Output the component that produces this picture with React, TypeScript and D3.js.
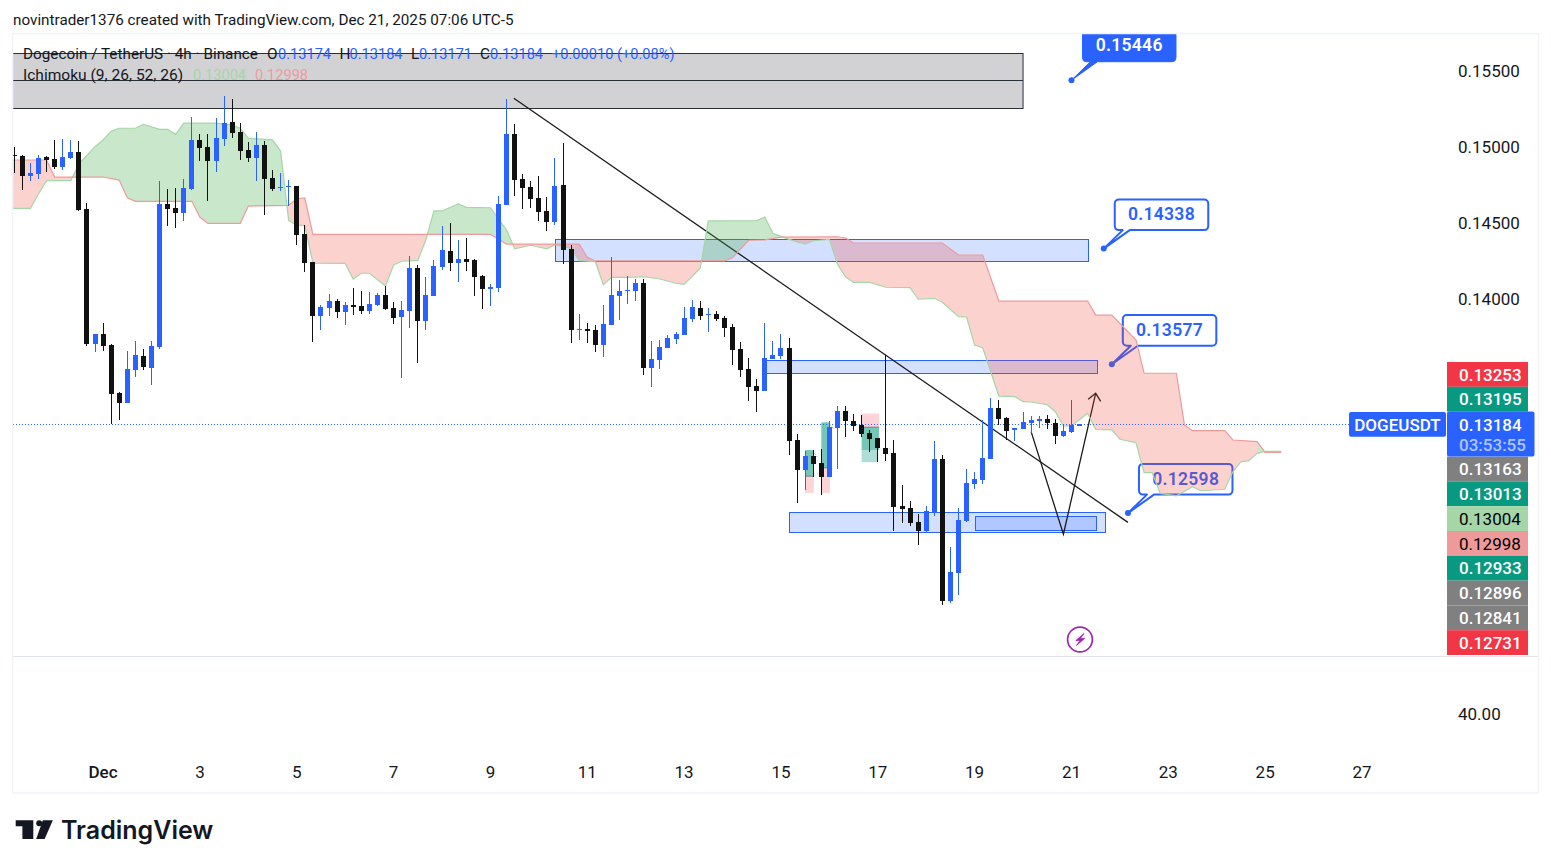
import * as d3 from 'd3';

// 4h candles
const opens = [
  0.14954, 0.14947, 0.14816, 0.14829, 0.14941, 0.14928, 0.14875, 0.14934, 0.14974, 0.14599,
  0.13711, 0.13776, 0.13704, 0.13388, 0.13322, 0.13539, 0.13632, 0.13553, 0.13691, 0.14632,
  0.14605, 0.14572, 0.14730, 0.15053, 0.15007, 0.14914, 0.15059, 0.15171, 0.15105, 0.14987,
  0.14934, 0.15020, 0.14803, 0.14737, 0.14743, 0.14750, 0.14434, 0.14250, 0.13895, 0.13947,
  0.13993, 0.13921, 0.13967, 0.13961, 0.13928, 0.13967, 0.14033, 0.13947, 0.13888, 0.13928,
  0.14211, 0.13862, 0.14026, 0.14217, 0.14322, 0.14243, 0.14270, 0.14263, 0.14158, 0.14072,
  0.14079, 0.14625, 0.15092, 0.14796, 0.14743, 0.14671, 0.14586, 0.14513, 0.14757, 0.14336,
  0.13803, 0.13809, 0.13803, 0.13704, 0.13836, 0.14026, 0.14059, 0.14059, 0.14112, 0.13553,
  0.13605, 0.13684, 0.13743, 0.13770, 0.13875, 0.13947, 0.13901, 0.13908, 0.13882, 0.13822,
  0.13678, 0.13546, 0.13434, 0.13401, 0.13612, 0.13632, 0.13684, 0.13079, 0.12882, 0.12974,
  0.12928, 0.12836, 0.13158, 0.13270, 0.13204, 0.13178, 0.13125, 0.13092, 0.13026, 0.12993,
  0.12645, 0.12632, 0.12539, 0.12480, 0.12599, 0.12954, 0.12020, 0.12204, 0.12546, 0.12789,
  0.12816, 0.12954, 0.13289, 0.13224, 0.13145, 0.13151, 0.13191, 0.13204, 0.13217, 0.13191,
  0.13105, 0.13132, 0.13174,
];
const closes = [
  0.14947, 0.14816, 0.14836, 0.14934, 0.14921, 0.14875, 0.14941, 0.14974, 0.14592, 0.13711,
  0.13776, 0.13697, 0.13382, 0.13322, 0.13546, 0.13638, 0.13559, 0.13697, 0.14632, 0.14599,
  0.14572, 0.14737, 0.15053, 0.15000, 0.14914, 0.15066, 0.15164, 0.15099, 0.14980, 0.14934,
  0.15020, 0.14796, 0.14730, 0.14743, 0.14750, 0.14428, 0.14243, 0.13895, 0.13954, 0.13993,
  0.13921, 0.13967, 0.13954, 0.13928, 0.13974, 0.14033, 0.13941, 0.13882, 0.13934, 0.14211,
  0.13862, 0.14033, 0.14224, 0.14329, 0.14243, 0.14270, 0.14250, 0.14151, 0.14072, 0.14086,
  0.14632, 0.15092, 0.14789, 0.14737, 0.14664, 0.14579, 0.14513, 0.14750, 0.14329, 0.13803,
  0.13809, 0.13796, 0.13704, 0.13842, 0.14033, 0.14059, 0.14066, 0.14112, 0.13553, 0.13612,
  0.13691, 0.13750, 0.13776, 0.13882, 0.13954, 0.13895, 0.13908, 0.13875, 0.13816, 0.13671,
  0.13539, 0.13428, 0.13401, 0.13618, 0.13638, 0.13684, 0.13072, 0.12882, 0.12974, 0.12921,
  0.12836, 0.13164, 0.13270, 0.13204, 0.13171, 0.13118, 0.13086, 0.13026, 0.12987, 0.12638,
  0.12625, 0.12533, 0.12480, 0.12612, 0.12954, 0.12020, 0.12211, 0.12553, 0.12796, 0.12822,
  0.12961, 0.13289, 0.13217, 0.13138, 0.13158, 0.13197, 0.13211, 0.13217, 0.13191, 0.13105,
  0.13138, 0.13178, 0.13184,
];
const highs = [
  0.15004, 0.14954, 0.14899, 0.14954, 0.14947, 0.15053, 0.15057, 0.15053, 0.15046, 0.14638,
  0.13776, 0.13849, 0.13711, 0.13395, 0.13664, 0.13730, 0.13678, 0.13730, 0.14783, 0.14730,
  0.14737, 0.14796, 0.15204, 0.15092, 0.15092, 0.15197, 0.15342, 0.15322, 0.15164, 0.15040,
  0.15105, 0.15046, 0.14855, 0.14836, 0.14789, 0.14750, 0.14493, 0.14250, 0.13967, 0.14039,
  0.14007, 0.13987, 0.14079, 0.14059, 0.14053, 0.14046, 0.14092, 0.13987, 0.13993, 0.14289,
  0.14230, 0.14151, 0.14263, 0.14487, 0.14507, 0.14395, 0.14408, 0.14270, 0.14164, 0.14105,
  0.14684, 0.15322, 0.15158, 0.14829, 0.14783, 0.14816, 0.14678, 0.14934, 0.15033, 0.14362,
  0.13908, 0.13849, 0.13836, 0.13967, 0.14283, 0.14132, 0.14158, 0.14138, 0.14138, 0.13730,
  0.13737, 0.13770, 0.13789, 0.13954, 0.14000, 0.13993, 0.13947, 0.13928, 0.13895, 0.13842,
  0.13724, 0.13618, 0.13480, 0.13849, 0.13730, 0.13776, 0.13750, 0.13118, 0.13007, 0.13013,
  0.13020, 0.13204, 0.13303, 0.13303, 0.13250, 0.13243, 0.13145, 0.13092, 0.13638, 0.13079,
  0.12783, 0.12678, 0.12592, 0.12645, 0.13072, 0.12980, 0.12375, 0.12632, 0.12888, 0.12868,
  0.13211, 0.13355, 0.13342, 0.13230, 0.13158, 0.13263, 0.13237, 0.13237, 0.13243, 0.13217,
  0.13178, 0.13342, 0.13184,
];
const lows = [
  0.14838, 0.14724, 0.14785, 0.14796, 0.14842, 0.14862, 0.14855, 0.14928, 0.14586, 0.13697,
  0.13658, 0.13664, 0.13184, 0.13211, 0.13322, 0.13493, 0.13539, 0.13441, 0.13678, 0.14487,
  0.14474, 0.14520, 0.14724, 0.14914, 0.14651, 0.14842, 0.15013, 0.15066, 0.14921, 0.14908,
  0.14783, 0.14559, 0.14717, 0.14717, 0.14618, 0.14362, 0.14184, 0.13724, 0.13803, 0.13895,
  0.13882, 0.13836, 0.13901, 0.13908, 0.13908, 0.13961, 0.13934, 0.13842, 0.13487, 0.13816,
  0.13586, 0.13803, 0.14026, 0.14197, 0.14191, 0.14118, 0.14191, 0.14026, 0.13941, 0.13961,
  0.14053, 0.14625, 0.14684, 0.14599, 0.14605, 0.14520, 0.14454, 0.14493, 0.14237, 0.13717,
  0.13737, 0.13717, 0.13658, 0.13625, 0.13836, 0.13868, 0.13974, 0.13993, 0.13507, 0.13428,
  0.13546, 0.13684, 0.13711, 0.13770, 0.13855, 0.13868, 0.13789, 0.13862, 0.13757, 0.13572,
  0.13493, 0.13336, 0.13263, 0.13401, 0.13612, 0.13612, 0.12980, 0.12664, 0.12750, 0.12838,
  0.12717, 0.12836, 0.12888, 0.13099, 0.13138, 0.13099, 0.13000, 0.12934, 0.12941, 0.12480,
  0.12533, 0.12513, 0.12388, 0.12474, 0.12579, 0.11993, 0.12007, 0.12059, 0.12539, 0.12757,
  0.12789, 0.12954, 0.13178, 0.13079, 0.13072, 0.13151, 0.13125, 0.13158, 0.13151, 0.13053,
  0.13099, 0.13125, 0.13171,
];

// Ichimoku cloud edges: bar index and price at each corner of the line
const spanABars = [
  -1, 2, 3, 4, 7, 8, 10, 11, 12, 13, 15, 16, 18, 19, 20, 21, 25, 27, 28, 29, 32, 33, 34, 35, 36, 37,
  41, 42, 43, 44, 46, 47, 48, 50, 51, 52, 53, 55, 56, 59, 61, 62, 64, 66, 67, 69, 70, 72, 73, 74,
  76, 78, 80, 82, 83, 85, 86, 92, 93, 94, 96, 97, 98, 99, 101, 102, 103, 104, 106, 108, 111, 112,
  114, 115, 117, 118, 119, 120, 122, 124, 125, 126, 128, 129, 130, 131, 133, 134, 136, 137, 139,
  140, 141, 142, 144, 146, 147, 150, 151, 152, 153, 154, 155, 157,
];
const spanA = [
  0.14603, 0.14603, 0.14697, 0.14785, 0.14785, 0.14895, 0.15009, 0.15053, 0.15110, 0.15130, 0.15130,
  0.15156, 0.15123, 0.15123, 0.15090, 0.15164, 0.15164, 0.15151, 0.15130, 0.15064, 0.15053, 0.14980,
  0.14522, 0.14493, 0.14489, 0.14243, 0.14241, 0.14138, 0.14176, 0.14176, 0.14092, 0.14230, 0.14255,
  0.14261, 0.14395, 0.14586, 0.14586, 0.14632, 0.14610, 0.14607, 0.14461, 0.14337, 0.14360, 0.14337,
  0.14364, 0.14340, 0.14259, 0.14252, 0.14101, 0.14149, 0.14149, 0.14153, 0.14138, 0.14110, 0.14103,
  0.14209, 0.14520, 0.14522, 0.14546, 0.14439, 0.14399, 0.14382, 0.14368, 0.14390, 0.14399, 0.14235,
  0.14153, 0.14116, 0.14116, 0.14084, 0.14081, 0.14005, 0.14011, 0.13985, 0.13890, 0.13888, 0.13704,
  0.13686, 0.13368, 0.13364, 0.13331, 0.13329, 0.13311, 0.13265, 0.13171, 0.13171, 0.13255, 0.13149,
  0.13145, 0.13084, 0.13061, 0.12864, 0.12864, 0.12728, 0.12712, 0.12772, 0.12745, 0.12755, 0.12870,
  0.12936, 0.12943, 0.12991, 0.13004, 0.13004,
];
const spanBBars = [
  -1, 4, 5, 11, 13, 14, 15, 22, 23, 24, 28, 29, 34, 35, 36, 37, 59, 61, 70, 71, 72, 88, 89, 91, 93,
  95, 102, 103, 104, 115, 117, 120, 122, 133, 134, 136, 139, 140, 144, 145, 146, 150, 151, 154, 155, 157,
];
const spanB = [
  0.14921, 0.14921, 0.14809, 0.14809, 0.14789, 0.14673, 0.14649, 0.14649, 0.14544, 0.14504, 0.14504,
  0.14618, 0.14623, 0.14666, 0.14671, 0.14432, 0.14432, 0.14368, 0.14368, 0.14281, 0.14257, 0.14257,
  0.14278, 0.14393, 0.14395, 0.14414, 0.14416, 0.14408, 0.14375, 0.14375, 0.14296, 0.14296, 0.13993,
  0.13993, 0.13901, 0.13901, 0.13737, 0.13518, 0.13518, 0.13178, 0.13140, 0.13140, 0.13079, 0.13068,
  0.12998, 0.12998,
];
// last cloud segment before the lines end: the chart fills it green
const endBars = [154, 155];
const endA = [0.12991, 0.13004];
const endB = [0.13068, 0.12998];

// Blue zones drawn on the chart
const zoneStart = [67.04, 93.1, 96, 119.1];
const zoneEnd = [133.1, 134.1, 135.1, 134.1];
const zoneTop = [0.14399, 0.13603, 0.12603, 0.12577];
const zoneBottom = [0.14252, 0.13515, 0.12469, 0.12482];

// Grey supply box with its middle line
const greyBars = [-2, 125];
const greyPrices = [0.15625, 0.15447, 0.15263];

// Long / short position boxes
const posBars = [[98, 99], [100, 101], [105, 107.1]];
const posTealTop = [0.13013, 0.13195, 0.13163];
const posTealBottom = [0.12841, 0.12896, 0.13013];
const posRedTop = [0.12841, 0.12896, 0.13253];
const posRedBottom = [0.12731, 0.12731, 0.13163];
const lightTealBars = [105, 106.9];
const lightTealPrices = [0.13013, 0.12933];
const stepBars = [[98.2, 99, 99.5], [101, 101.6]];
const stepPrices = [[0.12947, 0.13000, 0.12967], [0.13184, 0.13151]];

const trendBars = [61.9, 138];
const trendPrices = [0.15327, 0.12537];
const arrowBars = [126, 130, 134];
const arrowPrices = [0.13134, 0.12459, 0.13386];

const calloutBars = [131, 135, 136, 138];
const calloutPrices = [0.15446, 0.14338, 0.13577, 0.12598];

const priceTicks = [0.155, 0.15, 0.145, 0.14];
const dateLabels = ['Dec', '3', '5', '7', '9', '11', '13', '15', '17', '19', '21', '23', '25', '27'];
const stackLabels = ['0.13253', '0.13195', '', '0.13163', '0.13013', '0.13004', '0.12998', '0.12933', '0.12896', '0.12841', '0.12731'];
const stackColors = ['#f23645', '#089981', '', '#808080', '#089981', '#a5d6a7', '#ef9a9a', '#089981', '#808080', '#808080', '#f23645'];

const BLUE = '#2962ff';
const BLACK = '#111111';
const INK = '#131722';
const FONT = 'Roboto, sans-serif';

const W = 1551;
const H = 868;
const chartL = 13;
const chartT = 34;
const chartB = 656;
const chartR = 1538;
const priceX = 1459;

const x = d3.scaleLinear().domain([0, 132]).range([14.3, 1079.54]);
const y = d3.scaleLinear().domain([0.14, 0.155]).range([300, 72]);
const crisp = (v: number) => Math.round(v) + 0.5;

function calloutPath(px: number, py: number) {
  const l = px + 11;
  const b = py - 18.5;
  const t = b - 30.7;
  const r = l + 93.5;
  const c = d3.path();
  c.moveTo(l + 4, t);
  c.lineTo(r - 4, t);
  c.arcTo(r, t, r, t + 4, 4);
  c.lineTo(r, b - 4);
  c.arcTo(r, b, r - 4, b, 4);
  c.lineTo(l + 15, b);
  c.lineTo(px, py);
  c.lineTo(l + 8, b);
  c.lineTo(l + 4, b);
  c.arcTo(l, b, l, b - 4, 4);
  c.lineTo(l, t + 4);
  c.arcTo(l, t, l + 4, t, 4);
  c.closePath();
  return c.toString();
}

export default function App() {
  const lineA = d3.line<number>().x((_, i) => x(spanABars[i])).y(d => y(d));
  const lineB = d3.line<number>().x((_, i) => x(spanBBars[i])).y(d => y(d));
  // cloud colour: clip the area against span A so each side of a crossing gets its own fill
  const belowA = d3.area<number>().x((_, i) => x(spanABars[i])).y0(chartB + 200).y1(d => y(d));
  const aboveA = d3.area<number>().x((_, i) => x(spanABars[i])).y0(-200).y1(d => y(d));
  const belowB = d3.area<number>().x((_, i) => x(spanBBars[i])).y0(chartB + 200).y1(d => y(d));
  const aboveB = d3.area<number>().x((_, i) => x(spanBBars[i])).y0(-200).y1(d => y(d));
  const endPatch = d3.area<number>().x((_, i) => x(endBars[i])).y0((_, i) => y(endA[i])).y1(d => y(d));

  const stackY = (i: number) => {
    // the last-price tag in the middle is taller than the others
    const base = 362 + i * 24.8;
    return i > 2 ? base + 20.2 : base;
  };
  const lastY = crisp(y(closes[closes.length - 1]));

  return (
    <svg width={W} height={H} style={{ position: 'absolute', left: 0, top: 0, background: '#fff' }} fontFamily={FONT}>
      <defs>
        <clipPath id="pane"><rect x={chartL} y={chartT} width={chartR - chartL} height={chartB - chartT} /></clipPath>
        <clipPath id="underA"><path d={belowA(spanA) ?? ''} /></clipPath>
        <clipPath id="overA"><path d={aboveA(spanA) ?? ''} /></clipPath>
        <clipPath id="beforeEnd"><rect x={0} y={0} width={x(endBars[0])} height={H} /></clipPath>
      </defs>

      <text x={13} y={24.5} fontSize={15.25} fill={INK}>novintrader1376 created with TradingView.com, Dec 21, 2025 07:06 UTC-5</text>

      <g clipPath="url(#pane)">
        {/* grey box */}
        <rect x={x(greyBars[0])} width={x(greyBars[1]) - x(greyBars[0])} y={crisp(y(greyPrices[0]))} height={Math.round(y(greyPrices[2]) - y(greyPrices[0]))}
          fill="#d2d2d5" stroke="#2a2e39" strokeWidth={1} />
        <line x1={x(greyBars[0])} x2={x(greyBars[1])} y1={crisp(y(greyPrices[1]))} y2={crisp(y(greyPrices[1]))} stroke="#2a2e39" strokeWidth={1} />

        {/* zones */}
        {zoneStart.map((s, i) => (
          <rect key={i} x={crisp(x(s))} width={Math.round(x(zoneEnd[i]) - x(s))} y={crisp(y(zoneTop[i]))} height={Math.round(y(zoneBottom[i]) - y(zoneTop[i]))}
            fill={BLUE} fillOpacity={0.2} stroke={BLUE} strokeWidth={1} />
        ))}

        {/* position boxes */}
        {posBars.map((b, i) => (
          <g key={i}>
            <rect x={x(b[0])} width={x(b[1]) - x(b[0]) + 0.5} y={y(posRedTop[i])} height={y(posRedBottom[i]) - y(posRedTop[i])} fill="#f23645" fillOpacity={0.22} />
            <rect x={x(b[0])} width={x(b[1]) - x(b[0]) + 0.5} y={y(posTealTop[i])} height={y(posTealBottom[i]) - y(posTealTop[i])} fill="#089981" fillOpacity={0.56} />
            <line x1={x(b[0])} x2={x(b[1]) + 0.5} y1={y(i === 2 ? posTealTop[i] : posTealBottom[i])} y2={y(i === 2 ? posTealTop[i] : posTealBottom[i])} stroke="#787b86" strokeWidth={1} />
          </g>
        ))}
        <rect x={x(lightTealBars[0])} width={x(lightTealBars[1]) - x(lightTealBars[0])} y={y(lightTealPrices[0])} height={y(lightTealPrices[1]) - y(lightTealPrices[0])} fill="#089981" fillOpacity={0.33} />
        {stepBars.map((b, i) => (
          <path key={i} d={d3.line<number>().x(d => x(d)).y((_, j) => y(stepPrices[i][j]))(b) ?? ''} fill="none" stroke="#9a9ca3" strokeWidth={1} strokeDasharray="2 2" />
        ))}

        {/* trend line and the V move */}
        <line x1={x(trendBars[0])} y1={y(trendPrices[0])} x2={x(trendBars[1])} y2={y(trendPrices[1])} stroke="#1a1a1a" strokeWidth={1.3} />
        <path d={d3.line<number>().x((_, i) => x(arrowBars[i])).y(d => y(d))(arrowPrices) ?? ''} fill="none" stroke="#1a1a1a" strokeWidth={1.3} />
        <path d={`M${x(arrowBars[2]) - 7.5},${y(arrowPrices[2]) + 6}L${x(arrowBars[2])},${y(arrowPrices[2])}L${x(arrowBars[2]) + 5},${y(arrowPrices[2]) + 8}`} fill="none" stroke="#1a1a1a" strokeWidth={1.3} />

        {/* callouts */}
        {calloutBars.map((b, i) => {
          const solid = i === 0;
          const px = x(b);
          const py = y(calloutPrices[i]);
          return (
            <g key={i}>
              <path d={calloutPath(px, py)} fill={solid ? BLUE : '#fff'} stroke={BLUE} strokeWidth={solid ? 1 : 2} strokeLinejoin="round" />
              <circle cx={px} cy={py} r={3} fill={BLUE} />
              <text x={px + 11 + 46.7} y={py - 18.5 - 16.3 - (solid ? 0.8 : 0)} dy="0.36em" textAnchor="middle" fontSize={17.5} fontWeight={600} fill={solid ? '#fff' : BLUE} letterSpacing={0.3}>
                {calloutPrices[i].toFixed(5)}
              </text>
            </g>
          );
        })}

        {/* Ichimoku cloud */}
        <path d={aboveB(spanB) ?? ''} clipPath="url(#underA)" fill="#4caf50" fillOpacity={0.3} />
        <g clipPath="url(#beforeEnd)">
          <path d={belowB(spanB) ?? ''} clipPath="url(#overA)" fill="#f44336" fillOpacity={0.24} />
        </g>
        <path d={endPatch(endB) ?? ''} fill="#4caf50" fillOpacity={0.3} />
        <path d={lineA(spanA) ?? ''} fill="none" stroke="#a5d6a7" strokeWidth={1.2} />
        <path d={lineB(spanB) ?? ''} fill="none" stroke="#ef9a9a" strokeWidth={1.2} />

        <line x1={chartL} x2={1349} y1={lastY} y2={lastY} stroke={BLUE} strokeWidth={1} strokeDasharray="1 2" />

        {/* candles */}
        <g shapeRendering="crispEdges">
          {opens.map((o, i) => {
            const c = closes[i];
            const color = c >= o ? BLUE : BLACK;
            const cx = Math.floor(x(i));
            const top = Math.round(y(Math.max(o, c)));
            const bot = Math.round(y(Math.min(o, c)));
            const wt = Math.round(y(highs[i]));
            const wb = Math.round(y(lows[i]));
            return (
              <g key={i} fill={color}>
                <rect x={cx} width={1} y={wt} height={wb - wt} />
                <rect x={cx - 2} width={5} y={top} height={Math.max(1, bot - top)} />
              </g>
            );
          })}
        </g>

        <circle cx={1080} cy={639.5} r={12.4} fill="#fff" stroke="#9c27b0" strokeWidth={1.7} />
        <path d="M1084,633.5 L1075.8,640.6 L1080,640.6 L1076.5,645.5 L1084.6,638.4 L1080.4,638.4 Z" fill="#9c27b0" stroke="#9c27b0" strokeWidth={0.8} strokeLinejoin="round" />
      </g>

      {/* legend */}
      <g fontSize={15.3} fill={INK}>
        <text x={23} y={59}>Dogecoin / TetherUS · 4h · Binance</text>
        {['O', 'H', 'L', 'C'].map((k, i) => (
          <text key={k} x={[267, 339.5, 411, 480][i]} y={59}>{k}</text>
        ))}
        {['0.13174', '0.13184', '0.13171', '0.13184'].map((v, i) => (
          <text key={i} x={[278, 349.5, 419, 490][i]} y={59} fill={BLUE} fontSize={14.6}>{v}</text>
        ))}
        <text x={552} y={59} fill={BLUE} fontSize={14.6}>+0.00010 (+0.08%)</text>
        <text x={23} y={80} fontSize={15.55}>Ichimoku (9, 26, 52, 26)</text>
        <text x={193} y={80} fill="#a5d6a7" fontSize={14.6}>0.13004</text>
        <text x={255} y={80} fill="#ef9a9a" fontSize={14.6}>0.12998</text>
      </g>

      {/* frame */}
      <rect x={12.5} y={33.5} width={1526} height={759.5} fill="none" stroke="#f0f3fa" strokeWidth={1.5} />
      <line x1={chartL} x2={chartR} y1={chartB + 0.5} y2={chartB + 0.5} stroke="#e0e3eb" />

      {/* axes */}
      <g fontSize={17} fill={INK}>
        {priceTicks.map(t => (
          <text key={t} x={priceX - 1} y={y(t) - 1.2} dy="0.36em">{d3.format('.5f')(t)}</text>
        ))}
        <text x={priceX - 1} y={714} dy="0.36em">40.00</text>
        {dateLabels.map((d, i) => (
          <text key={d} x={x(11 + i * 12)} y={772} dy="0.36em" textAnchor="middle" fontWeight={i === 0 ? 500 : 400}>{d}</text>
        ))}
      </g>

      {/* stacked price tags */}
      {stackLabels.map((t, i) => t && (
        <g key={i}>
          <rect x={1447} y={stackY(i)} width={81} height={24.8} fill={stackColors[i]} />
          <text x={priceX} y={stackY(i) + 12.4} dy="0.36em" fontSize={17} fontWeight={stackColors[i] === '#a5d6a7' || stackColors[i] === '#ef9a9a' ? 400 : 500}
            fill={stackColors[i] === '#a5d6a7' || stackColors[i] === '#ef9a9a' ? '#000' : '#fff'}>{t}</text>
        </g>
      ))}
      <rect x={1447} y={411.6} width={87.5} height={45} rx={2} fill={BLUE} />
      <text x={priceX} y={424.5} dy="0.36em" fontSize={17} fontWeight={500} fill="#fff">0.13184</text>
      <text x={priceX} y={444.5} dy="0.36em" fontSize={17} fontWeight={500} fill="#fff" fillOpacity={0.65}>03:53:55</text>
      <rect x={1349} y={412} width={97} height={24.7} rx={2} fill={BLUE} />
      <text x={1397.5} y={424.5} dy="0.36em" textAnchor="middle" fontSize={17} fontWeight={500} fill="#fff">DOGEUSDT</text>

      {/* logo */}
      <g fill="#131722">
        <path d="M15.7,820.3 H33.3 V839 H22.4 V826.3 H15.7 Z" />
        <circle cx={39.2} cy={823.3} r={3} />
        <path d="M42.8,820.3 H52.8 L44.6,839 H36.2 Z" />
        <text x={61} y={839} fontFamily="Inter, sans-serif" fontSize={25} fontWeight={600}>TradingView</text>
      </g>
    </svg>
  );
}
